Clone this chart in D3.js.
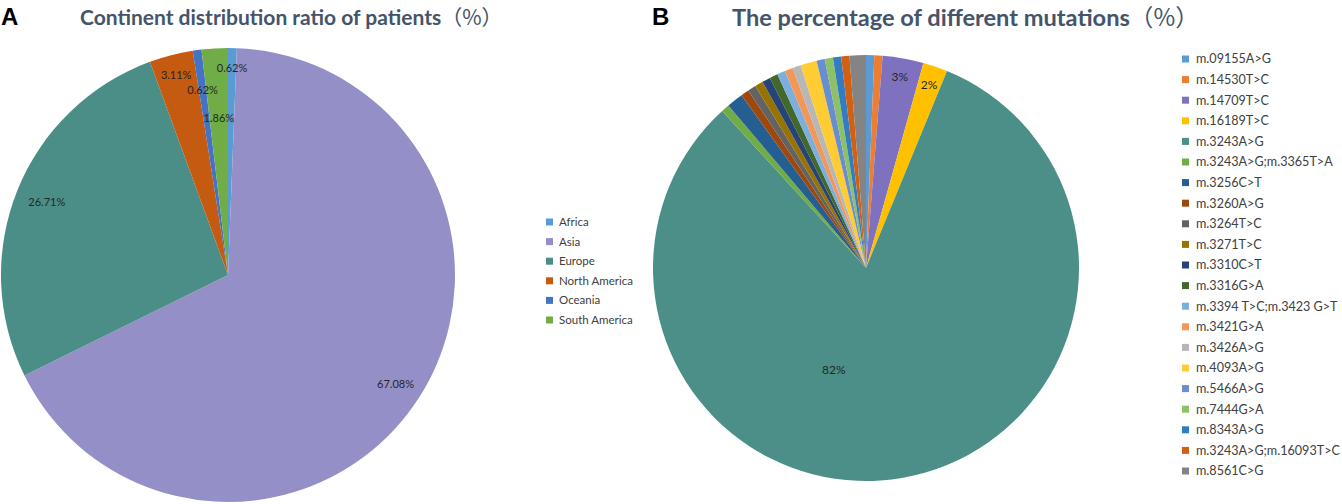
<!DOCTYPE html>
<html>
<head>
<meta charset="utf-8">
<script src="https://cdn.jsdelivr.net/npm/d3@7"></script>
<style>
  body { margin: 0; background: #fff; }
  svg { display: block; font-family: Lato, "Noto Sans", sans-serif; }
</style>
</head>
<body>
<div id="chart"></div>
<script>
// data (counts of patients, 161 in total)
var continents = ["Africa", "Asia", "Europe", "North America", "Oceania", "South America"];
var continentCounts = [1, 108, 43, 5, 1, 3];

var mutations = ["m.09155A>G", "m.14530T>C", "m.14709T>C", "m.16189T>C", "m.3243A>G",
    "m.3243A>G;m.3365T>A", "m.3256C>T", "m.3260A>G", "m.3264T>C", "m.3271T>C",
    "m.3310C>T", "m.3316G>A", "m.3394 T>C;m.3423 G>T", "m.3421G>A", "m.3426A>G",
    "m.4093A>G", "m.5466A>G", "m.7444G>A", "m.8343A>G", "m.3243A>G;m.16093T>C", "m.8561C>G"];
var mutationCounts = [1, 1, 5, 3, 132, 1, 2, 1, 1, 1, 1, 1, 1, 1, 1, 2, 1, 1, 1, 1, 2];

// colours (excel style palette)
var continentColors = ["#5b9bd5", "#948fc7", "#4b8e87", "#c55a11", "#4472c4", "#70ad47"];
var mutationColors = ["#5b9bd5", "#ed7d31", "#7e72c0", "#ffc000", "#4b8f88", "#70ad47",
    "#255e91", "#9e480e", "#636363", "#997300", "#264478", "#43682b", "#7cafdd",
    "#f1975a", "#b7b7b7", "#ffcd33", "#698ed0", "#8cc168", "#327dc2", "#d26012", "#848484"];

var svgWidth = 1342;
var svgHeight = 504;

var svg = d3.select("#chart")
    .append("svg")
    .attr("width", svgWidth)
    .attr("height", svgHeight);

svg.append("rect").attr("width", svgWidth).attr("height", svgHeight).attr("fill", "#fff");

var pie = d3.pie().sort(null).value(d => d.value);

// ---------- panel A ----------
var pieA = { cx: 228, cy: 275, r: 227 };
// where excel put each label, as a fraction of the radius
var labelRadiusA = [0.91, 0.88, 0.86, 0.91, 0.82, 0.69];

var dataA = continents.map((c, i) => ({ name: c, value: continentCounts[i] }));
var totalA = d3.sum(continentCounts);
var colorA = d3.scaleOrdinal().domain(continents).range(continentColors);

var gA = svg.append("g")
    .attr("transform", `translate(${pieA.cx}, ${pieA.cy})`);

var arcA = d3.arc().innerRadius(0).outerRadius(pieA.r);
var arcsA = pie(dataA);

gA.selectAll("path")
    .data(arcsA)
    .enter()
    .append("path")
    .attr("d", arcA)
    .attr("fill", d => colorA(d.data.name));

gA.selectAll("text")
    .data(arcsA)
    .enter()
    .append("text")
    .attr("transform", (d, i) => {
        var rr = pieA.r * labelRadiusA[i];
        var a = (d.startAngle + d.endAngle) / 2;
        return `translate(${rr * Math.sin(a)}, ${-rr * Math.cos(a)})`;
    })
    .attr("text-anchor", "middle")
    .attr("dy", "0.35em")
    .attr("font-size", 11)
    .attr("fill", "#262626")
    .text(d => d3.format(".2%")(d.data.value / totalA));

var legendA = svg.append("g")
    .attr("transform", "translate(546, 222)");

var legendItemA = legendA.selectAll("g")
    .data(continents)
    .enter()
    .append("g")
    .attr("transform", (d, i) => `translate(0, ${i * 19.6})`);

legendItemA.append("rect")
    .attr("x", 0).attr("y", -3.5)
    .attr("width", 7).attr("height", 7)
    .attr("fill", d => colorA(d));

legendItemA.append("text")
    .attr("x", 13)
    .attr("dy", "0.35em")
    .attr("font-size", 11.5)
    .attr("fill", "#404040")
    .text(d => d);

// ---------- panel B ----------
var pieB = { cx: 866, cy: 268, r: 213 };

var dataB = mutations.map((m, i) => ({ name: m, value: mutationCounts[i] }));
var totalB = d3.sum(mutationCounts);
var colorB = d3.scaleOrdinal().domain(mutations).range(mutationColors);

var gB = svg.append("g")
    .attr("transform", `translate(${pieB.cx}, ${pieB.cy})`);

var arcB = d3.arc().innerRadius(0).outerRadius(pieB.r);
var arcsB = pie(dataB);

gB.selectAll("path")
    .data(arcsB)
    .enter()
    .append("path")
    .attr("d", arcB)
    .attr("fill", d => colorB(d.data.name));

// only the slices of 2% and more carry a label
gB.selectAll("text")
    .data(arcsB.filter(d => d.data.value / totalB >= 0.015))
    .enter()
    .append("text")
    .attr("transform", d => {
        var big = d.data.value / totalB > 0.5;
        var rr = pieB.r * (big ? 0.5 : 0.91);
        var a = big ? 197.6 * Math.PI / 180 : (d.startAngle + d.endAngle) / 2;
        return `translate(${rr * Math.sin(a)}, ${-rr * Math.cos(a)})`;
    })
    .attr("text-anchor", "middle")
    .attr("dy", "0.35em")
    .attr("font-size", 12)
    .attr("fill", "#262626")
    .text(d => d3.format(".0%")(d.data.value / totalB));

var legendB = svg.append("g")
    .attr("transform", "translate(1182, 59)");

var legendItemB = legendB.selectAll("g")
    .data(mutations)
    .enter()
    .append("g")
    .attr("transform", (d, i) => `translate(0, ${i * 20.6})`);

legendItemB.append("rect")
    .attr("x", 0).attr("y", -3.5)
    .attr("width", 7).attr("height", 7)
    .attr("fill", d => colorB(d));

legendItemB.append("text")
    .attr("x", 14)
    .attr("dy", "0.35em")
    .attr("font-size", 12.6)
    .attr("fill", "#404040")
    .text(d => d);

// ---------- titles ----------
function title(x, y, size, text) {
    var t = svg.append("text")
        .attr("x", x)
        .attr("y", y)
        .attr("font-size", size)
        .attr("font-weight", "bold")
        .attr("fill", "#44546a");
    t.append("tspan").text(text);
    t.append("tspan")
        .attr("font-family", "'Noto Sans CJK SC'")
        .attr("font-weight", "normal")
        .text("（%）");
}
title(80, 25, 21, "Continent distribution ratio of patients");
title(732, 26, 23.6, "The percentage of different mutations");

svg.append("text")
    .attr("x", 1).attr("y", 25)
    .attr("font-family", "'Liberation Sans', Arial, sans-serif")
    .attr("font-weight", "bold")
    .attr("font-size", 24)
    .text("A");

svg.append("text")
    .attr("x", 652).attr("y", 25)
    .attr("font-family", "'Liberation Sans', Arial, sans-serif")
    .attr("font-weight", "bold")
    .attr("font-size", 24)
    .text("B");
</script>
</body>
</html>
